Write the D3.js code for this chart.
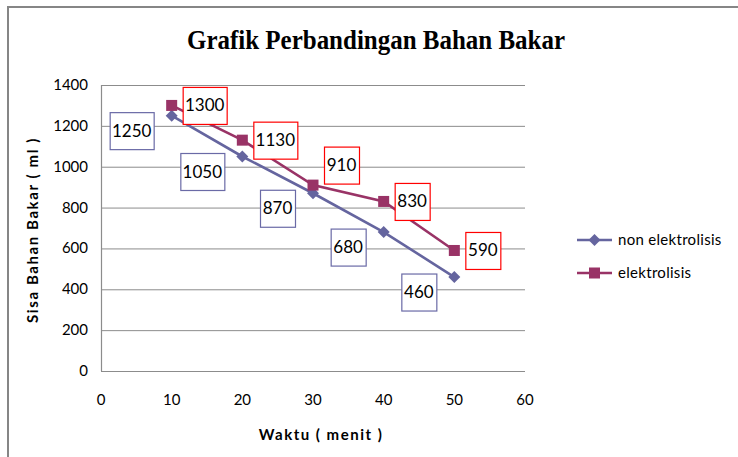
<!doctype html>
<html>
<head>
  <meta charset="utf-8">
  <title>Grafik Perbandingan Bahan Bakar</title>
  <style>
    body { margin: 0; background: #fff; }
  </style>
</head>
<body>
<div class="graphContainer"></div>
<script src="https://cdn.jsdelivr.net/npm/d3@7"></script>
<script>
// data
var waktu = [10, 20, 30, 40, 50];
var nonElektrolisis = [1250, 1050, 870, 680, 460];
var elektrolisis = [1300, 1130, 910, 830, 590];
var seriesNames = ["non elektrolisis", "elektrolisis"];
var xTicks = [0, 10, 20, 30, 40, 50, 60];
var yTicks = [0, 200, 400, 600, 800, 1000, 1200, 1400];

function drawChart() {
    var w = 738, h = 457;
    var sans = "Lato, 'Open Sans', sans-serif";

    var svg = d3.select(".graphContainer")
        .append("svg")
        .attr("width", w)
        .attr("height", h)
        .attr("font-family", sans);

    // outer chart frame (runs off the right and bottom edges)
    svg.append("rect")
        .attr("x", 8).attr("y", 7)
        .attr("width", 800).attr("height", 600)
        .attr("fill", "none")
        .attr("stroke", "#868686")
        .attr("stroke-width", 2);

    var x = d3.scaleLinear().domain([0, 60]).range([101, 525]);
    var y = d3.scaleLinear().domain([0, 1400]).range([371, 85]);

    // gridlines
    svg.append("g").selectAll("line")
        .data(yTicks.slice(1))
        .join("line")
        .attr("x1", x(0)).attr("x2", x(60))
        .attr("y1", d => y(d) + 0.5).attr("y2", d => y(d) + 0.5)
        .attr("stroke", "#8c8c8c")
        .attr("stroke-width", 1);

    // axis lines
    svg.append("line")
        .attr("x1", x(0) + 0.5).attr("x2", x(0) + 0.5)
        .attr("y1", y(1400)).attr("y2", y(0))
        .attr("stroke", "#8c8c8c").attr("stroke-width", 1.2);
    svg.append("line")
        .attr("x1", x(0)).attr("x2", x(60))
        .attr("y1", y(0) + 0.5).attr("y2", y(0) + 0.5)
        .attr("stroke", "#8c8c8c").attr("stroke-width", 1.2);

    // tick labels
    svg.append("g").selectAll("text")
        .data(yTicks)
        .join("text")
        .attr("x", 88)
        .attr("y", d => y(d) + 5)
        .attr("text-anchor", "end")
        .attr("font-size", 15)
        .attr("fill", "#000")
        .text(d => d);

    svg.append("g").selectAll("text")
        .data(xTicks)
        .join("text")
        .attr("x", d => x(d))
        .attr("y", 405)
        .attr("text-anchor", "middle")
        .attr("font-size", 15)
        .attr("fill", "#000")
        .text(d => d);

    // titles
    svg.append("text")
        .attr("x", 376).attr("y", 49)
        .attr("text-anchor", "middle")
        .attr("font-family", "'Liberation Serif', 'DejaVu Serif', serif")
        .attr("font-weight", "bold")
        .attr("font-size", 28)
        .attr("textLength", 378)
        .attr("lengthAdjust", "spacingAndGlyphs")
        .text("Grafik Perbandingan Bahan Bakar");

    svg.append("text")
        .attr("x", 321).attr("y", 440)
        .attr("text-anchor", "middle")
        .attr("font-weight", "bold")
        .attr("font-size", 15)
        .attr("letter-spacing", 1.5)
        .text("Waktu ( menit )");

    svg.append("text")
        .attr("transform", "translate(38,230) rotate(-90)")
        .attr("text-anchor", "middle")
        .attr("font-weight", "bold")
        .attr("font-size", 15)
        .attr("letter-spacing", 1.6)
        .text("Sisa Bahan Bakar ( ml )");

    var colors = ["#65659f", "#993366"];
    var boxColors = ["#6a6aa6", "#ff0000"];
    var allSeries = [nonElektrolisis, elektrolisis];

    var line = d3.line()
        .x(d => x(d[0]))
        .y(d => y(d[1]));

    allSeries.forEach(function(vals, s) {
        var pts = waktu.map((t, i) => [t, vals[i]]);
        svg.append("path")
            .datum(pts)
            .attr("d", line)
            .attr("fill", "none")
            .attr("stroke", colors[s])
            .attr("stroke-width", 2.6);
    });

    // diamonds
    svg.append("g").selectAll("path")
        .data(waktu.map((t, i) => [t, nonElektrolisis[i]]))
        .join("path")
        .attr("d", "M0,-6L6,0L0,6L-6,0Z")
        .attr("transform", d => `translate(${x(d[0])},${y(d[1])})`)
        .attr("fill", colors[0]);

    // squares
    svg.append("g").selectAll("rect")
        .data(waktu.map((t, i) => [t, elektrolisis[i]]))
        .join("rect")
        .attr("x", d => x(d[0]) - 5.5)
        .attr("y", d => y(d[1]) - 5.5)
        .attr("width", 11).attr("height", 11)
        .attr("fill", colors[1]);

    // data labels in boxes
    function boxLabel(cx, cy, txt, color) {
        var bw = String(txt).length > 3 ? 44 : 35, bh = 37;
        svg.append("rect")
            .attr("x", cx - bw / 2 + 0.5).attr("y", cy - bh / 2 + 0.5)
            .attr("width", bw).attr("height", bh)
            .attr("fill", "#fff")
            .attr("stroke", color)
            .attr("stroke-width", 1.2);
        svg.append("text")
            .attr("x", cx).attr("y", cy + 6)
            .attr("text-anchor", "middle")
            .attr("font-size", 17)
            .attr("fill", "#000")
            .text(txt);
    }

    waktu.forEach(function(t, i) {
        var v = nonElektrolisis[i];
        var bw = String(v).length > 3 ? 44 : 35;
        boxLabel(x(t) - 18 - bw / 2, y(v) + 15, v, boxColors[0]);
    });
    waktu.forEach(function(t, i) {
        var v = elektrolisis[i];
        var bw = String(v).length > 3 ? 44 : 35;
        var nudge = (t === 30) ? -20 : 0;
        boxLabel(x(t) + 11 + bw / 2, y(v) + nudge, v, boxColors[1]);
    });

    // legend
    var legend = svg.append("g");
    seriesNames.forEach(function(name, s) {
        var ly = 240 + s * 33;
        legend.append("line")
            .attr("x1", 577).attr("x2", 612)
            .attr("y1", ly).attr("y2", ly)
            .attr("stroke", colors[s]).attr("stroke-width", 2.6);
        if (s === 0) {
            legend.append("path")
                .attr("d", "M0,-6L6,0L0,6L-6,0Z")
                .attr("transform", `translate(594.5,${ly})`)
                .attr("fill", colors[0]);
        } else {
            legend.append("rect")
                .attr("x", 589).attr("y", ly - 5.5)
                .attr("width", 11).attr("height", 11)
                .attr("fill", colors[1]);
        }
        legend.append("text")
            .attr("x", 618).attr("y", ly + 5)
            .attr("font-size", 15)
            .attr("letter-spacing", 0.3)
            .text(name);
    });
}

drawChart();
</script>
</body>
</html>
